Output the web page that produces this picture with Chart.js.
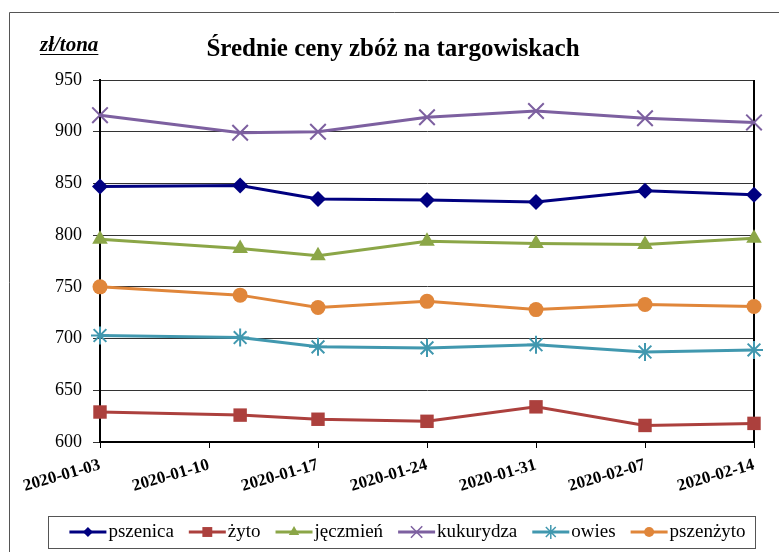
<!DOCTYPE html>
<html>
<head>
<meta charset="utf-8">
<script src="https://cdn.jsdelivr.net/npm/chart.js@4.4.1/dist/chart.umd.min.js"></script>
<style>
  html, body { margin: 0; padding: 0; background: #fff; }
  #wrap { width: 779px; height: 552px; }
</style>
</head>
<body>
<div id="wrap"><canvas id="chart" width="779" height="552"></canvas></div>
<script>
// Data (zł/tona)
const dates = ['2020-01-03', '2020-01-12', '2020-01-17', '2020-01-24', '2020-01-31', '2020-02-07', '2020-02-14'];
const seriesNames = ['pszenica', 'żyto', 'jęczmień', 'kukurydza', 'owies', 'pszenżyto'];
const pszenica  = [847, 848, 835, 834, 832, 843, 839];
const zyto      = [629, 626, 622, 620, 634, 616, 618];
const jeczmien  = [796, 787, 780, 794, 792, 791, 797];
const kukurydza = [916, 899, 900, 914, 920, 913, 909];
const owies     = [703, 701, 692, 691, 694, 687, 689];
const pszenzyto = [750, 742, 730, 736, 728, 733, 731];
const yTicks = { min: 600, max: 950, step: 50 };

const SERIF = "'Liberation Serif', 'Times New Roman', serif";
const DAY = 86400000;
const startMs = Date.parse(dates[0]);
const endMs = Date.parse(dates[dates.length - 1]);

// x position = days since first date
function toPoints(values) {
    return values.map((v, i) => ({ x: (Date.parse(dates[i]) - startMs) / DAY, y: v }));
}

function fmtDay(v) {
    return new Date(startMs + v * DAY).toISOString().slice(0, 10);
}

const styles = [
    { color: '#000080', point: 'rectRot',  radius: 8,   legendRadius: 5 },
    { color: '#AC403D', point: 'rect',     radius: 9.5, legendRadius: 7 },
    { color: '#8BA647', point: 'triangle', radius: 9,   legendRadius: 6 },
    { color: '#7D60A0', point: 'crossRot', radius: 11,  legendRadius: 8 },
    { color: '#4198AF', point: 'star',     radius: 9,   legendRadius: 7 },
    { color: '#E0863A', point: 'circle',   radius: 7.5, legendRadius: 5 }
];
const allValues = [pszenica, zyto, jeczmien, kukurydza, owies, pszenzyto];

const datasets = allValues.map((vals, i) => {
    const s = styles[i];
    const filled = !(s.point === 'crossRot' || s.point === 'star');
    return {
        label: seriesNames[i],
        data: toPoints(vals),
        borderColor: s.color,
        backgroundColor: s.color,
        borderWidth: 3,
        pointStyle: s.point,
        pointRadius: s.radius,
        pointBackgroundColor: s.color,
        pointBorderColor: s.color,
        pointBorderWidth: filled ? 0 : 2,
        tension: 0,
        clip: false
    };
});

// Frame, title, unit label, right border and legend
const decorations = {
    id: 'decorations',
    beforeDraw(chart) {
        const ctx = chart.ctx;
        ctx.save();
        ctx.fillStyle = '#fff';
        ctx.fillRect(0, 0, chart.width, chart.height);
        ctx.strokeStyle = '#555';
        ctx.lineWidth = 1;
        ctx.beginPath();
        ctx.moveTo(9.5, chart.height);
        ctx.lineTo(9.5, 12.5);
        ctx.lineTo(chart.width, 12.5);
        ctx.stroke();
        ctx.restore();
    },
    beforeDatasetsDraw(chart) {
        const ctx = chart.ctx;
        const area = chart.chartArea;
        // right border of plot area
        ctx.save();
        ctx.strokeStyle = '#000';
        ctx.lineWidth = 2;
        ctx.beginPath();
        ctx.moveTo(area.right, area.top);
        ctx.lineTo(area.right, area.bottom);
        ctx.stroke();
        ctx.restore();
    },
    afterDraw(chart) {
        const ctx = chart.ctx;
        ctx.save();

        // title
        ctx.fillStyle = '#000';
        ctx.font = 'bold 25px ' + SERIF;
        ctx.textAlign = 'center';
        ctx.textBaseline = 'alphabetic';
        ctx.fillText('Średnie ceny zbóż na targowiskach', 393, 56);

        // unit label
        ctx.font = 'italic bold 21px ' + SERIF;
        ctx.textAlign = 'left';
        const unit = 'zł/tona';
        ctx.fillText(unit, 40, 51);
        const uw = ctx.measureText(unit).width;
        ctx.strokeStyle = '#000';
        ctx.lineWidth = 1.2;
        ctx.beginPath();
        ctx.moveTo(40, 54.5);
        ctx.lineTo(40 + uw, 54.5);
        ctx.stroke();

        // legend
        const box = { left: 48, right: 755, top: 516, bottom: 548 };
        ctx.strokeStyle = '#555';
        ctx.lineWidth = 1;
        ctx.strokeRect(box.left + 0.5, box.top + 0.5, box.right - box.left, box.bottom - box.top);
        ctx.font = '19px ' + SERIF;
        const lineLen = 37, gapText = 2, gapItem = 15;
        const widths = seriesNames.map(n => ctx.measureText(n).width);
        const total = widths.reduce((a, b) => a + b, 0) + seriesNames.length * (lineLen + gapText) + (seriesNames.length - 1) * gapItem;
        let x = (box.left + box.right) / 2 - total / 2 + 6;
        const cy = 532;
        seriesNames.forEach((name, i) => {
            const s = styles[i];
            ctx.strokeStyle = s.color;
            ctx.fillStyle = s.color;
            ctx.lineWidth = 3;
            ctx.beginPath();
            ctx.moveTo(x, cy);
            ctx.lineTo(x + lineLen, cy);
            ctx.stroke();
            const filled = !(s.point === 'crossRot' || s.point === 'star');
            if (Chart.helpers && Chart.helpers.drawPoint) {
                ctx.lineWidth = filled ? 0 : 1.5;
                Chart.helpers.drawPoint(ctx, {
                    pointStyle: s.point,
                    radius: s.legendRadius,
                    rotation: 0,
                    borderWidth: filled ? 0 : 1.5
                }, x + lineLen / 2, cy);
            }
            ctx.fillStyle = '#000';
            ctx.textAlign = 'left';
            ctx.textBaseline = 'middle';
            ctx.fillText(name, x + lineLen + gapText, cy);
            x += lineLen + gapText + widths[i] + gapItem;
        });

        ctx.restore();
    }
};

new Chart(document.getElementById('chart'), {
    type: 'line',
    data: { datasets: datasets },
    options: {
        responsive: false,
        animation: false,
        layout: { padding: { top: 80, left: 0, right: 25, bottom: 0 } },
        plugins: {
            legend: { display: false },
            title: { display: false },
            tooltip: { enabled: false }
        },
        scales: {
            x: {
                type: 'linear',
                min: 0,
                max: (endMs - startMs) / DAY,
                border: { color: '#000', width: 2 },
                grid: { drawOnChartArea: false, drawTicks: true, tickLength: 6, color: '#000' },
                ticks: {
                    stepSize: 7,
                    autoSkip: false,
                    minRotation: 16,
                    maxRotation: 16,
                    padding: 7,
                    color: '#000',
                    font: { family: SERIF, size: 17, weight: 'bold' },
                    callback: v => fmtDay(v)
                },
                afterFit: scale => { scale.height = 110; }
            },
            y: {
                min: yTicks.min,
                max: yTicks.max,
                border: { color: '#000', width: 2 },
                grid: { color: '#333', lineWidth: 1, tickLength: 7 },
                ticks: {
                    stepSize: yTicks.step,
                    padding: 11,
                    color: '#000',
                    font: { family: SERIF, size: 18 }
                },
                afterFit: scale => { scale.width = 100; }
            }
        }
    },
    plugins: [decorations]
});
</script>
</body>
</html>
